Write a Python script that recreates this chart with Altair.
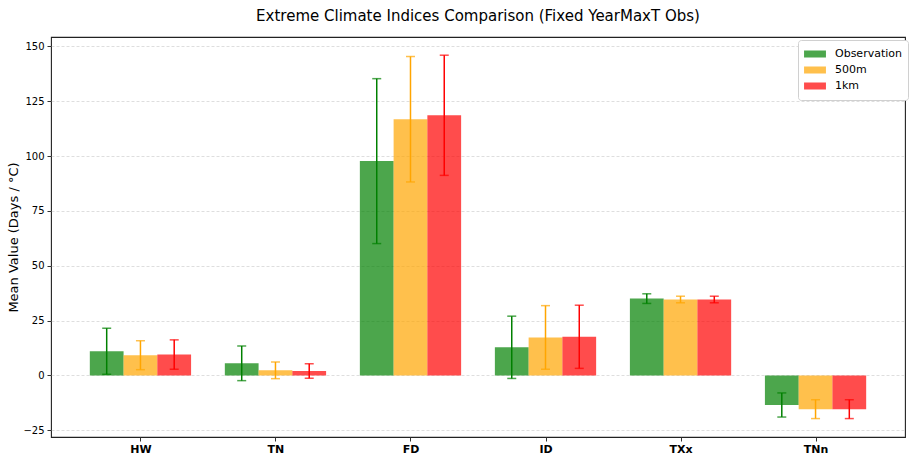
import altair as alt
import pandas as pd

# Climate index categories and model sources
indices = ["HW", "TN", "FD", "ID", "TXx", "TNn"]
sources = ["Observation", "500m", "1km"]

# Mean values and standard deviations per source
obs_mean = [11.0, 5.5, 97.7, 12.8, 35.0, -13.5]
obs_err = [10.5, 7.9, 37.6, 14.2, 2.2, 5.5]
m500_mean = [9.2, 2.3, 116.8, 17.3, 34.6, -15.4]
m500_err = [6.6, 3.8, 28.6, 14.5, 1.5, 4.3]
km1_mean = [9.5, 2.0, 118.6, 17.6, 34.6, -15.4]
km1_err = [6.7, 3.3, 27.4, 14.4, 1.5, 4.3]

bar_colors = ["#008000", "#FFA500", "#FF0000"]

rows = []
series = [(obs_mean, obs_err), (m500_mean, m500_err), (km1_mean, km1_err)]
for s_i, (means, errs) in enumerate(series):
    for i, name in enumerate(indices):
        rows.append({"idx": i, "index": name, "source": sources[s_i],
                     "order": s_i, "mean": means[i], "err": errs[i]})
df = pd.DataFrame(rows)

bar_w = 0.25
label_expr = "[" + ",".join(f"'{n}'" for n in indices) + "][datum.value]"

x_scale = alt.Scale(domain=[-0.6625, 5.6625], nice=False, zero=False)
y_scale = alt.Scale(domain=[-28.1, 154.3], nice=False, zero=False)

base = alt.Chart(df).transform_calculate(
    pos=f"datum.idx + (datum.order - 1) * {bar_w}",
    left=f"datum.idx + (datum.order - 1) * {bar_w} - {bar_w / 2}",
    right=f"datum.idx + (datum.order - 1) * {bar_w} + {bar_w / 2}",
    lo="datum.mean - datum.err",
    hi="datum.mean + datum.err",
)

x_axis = alt.Axis(values=list(range(len(indices))), labelExpr=label_expr,
                  title=None, grid=False, domain=False, tickSize=4,
                  tickColor="#333333", labelFontWeight="bold", labelFontSize=11,
                  labelColor="black", labelPadding=2, labelFont="DejaVu Sans")
y_axis = alt.Axis(values=[-25, 0, 25, 50, 75, 100, 125, 150],
                  title="Mean Value (Days / °C)", titleFontSize=13,
                  titleFontWeight="normal", titleFont="DejaVu Sans",
                  titleColor="black", titlePadding=2,
                  labelFontSize=10, labelColor="black", labelFont="DejaVu Sans",
                  tickSize=4, tickColor="#333333", domain=False,
                  grid=True, gridDash=[3, 2], gridColor="#d6d6d6",
                  gridOpacity=1, gridWidth=0.8, labelPadding=3)

color = alt.Color("source:N", sort=sources,
                  scale=alt.Scale(domain=sources, range=bar_colors),
                  legend=alt.Legend(title=None, orient="none", legendX=747,
                                    legendY=3, symbolType="M-1,-0.32H1V0.32H-1Z",
                                    symbolSize=480, symbolOpacity=0.7,
                                    symbolStrokeWidth=0, labelFontSize=11,
                                    labelFont="DejaVu Sans", labelColor="black",
                                    labelOffset=9, rowPadding=0, clipHeight=16,
                                    padding=6, fillColor="white",
                                    strokeColor="#d0d0d0", cornerRadius=3))

bars = base.mark_bar(opacity=0.7).encode(
    x=alt.X("left:Q", scale=x_scale, axis=x_axis),
    x2="right:Q",
    y=alt.Y("mean:Q", scale=y_scale, axis=y_axis),
    y2=alt.datum(0),
    color=color,
)

err_scale = alt.Scale(domain=sources, range=bar_colors)

err_lines = base.mark_rule(strokeWidth=1.5).encode(
    x="pos:Q", y="lo:Q", y2="hi:Q",
    stroke=alt.Stroke("source:N", scale=err_scale, legend=None))

caps_hi = base.mark_tick(orient="horizontal", size=9, thickness=1.5).encode(
    x="pos:Q", y="hi:Q",
    color=alt.Color("source:N", scale=err_scale, legend=None))
caps_lo = base.mark_tick(orient="horizontal", size=9, thickness=1.5).encode(
    x="pos:Q", y="lo:Q",
    color=alt.Color("source:N", scale=err_scale, legend=None))

chart = alt.layer(bars, err_lines, caps_hi, caps_lo).properties(
    width=854, height=400,
    title=alt.TitleParams("Extreme Climate Indices Comparison (Fixed YearMaxT Obs)",
                          fontSize=15, fontWeight="normal", font="DejaVu Sans",
                          color="black", offset=13, anchor="middle"),
    autosize=alt.AutoSizeParams(type="none"),
    padding={"left": 51, "top": 37, "right": 10, "bottom": 20},
).configure(background="white").configure_view(stroke="#222222", strokeWidth=1.1)

chart.save("out.html", embed_options={"renderer": "svg", "actions": False})
